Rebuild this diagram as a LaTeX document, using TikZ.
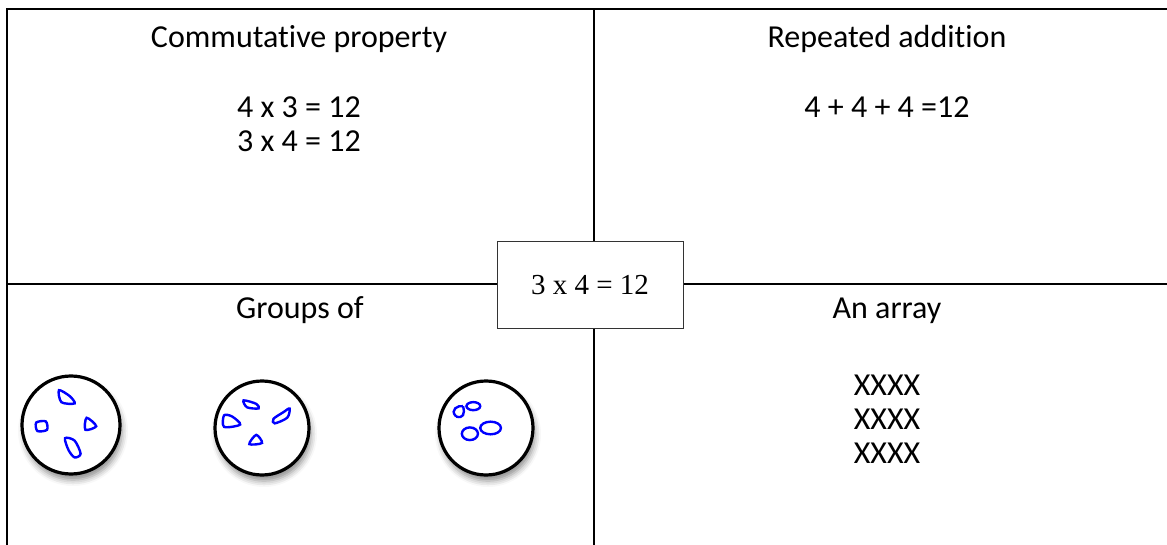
\documentclass[tikz,border=0pt]{standalone}
\usepackage{fontspec}
\setmainfont{Carlito}[Ligatures=NoCommon]
\newfontfamily\keyfont{Liberation Serif}
\usetikzlibrary{shadows.blur}

\begin{document}
\begin{tikzpicture}[x=0.5pt,y=-0.5pt,
        frame/.style={line width=1pt},
        celltext/.style={anchor=base,inner sep=0pt,font=\fontsize{16}{19}\selectfont},
        keybox/.style={draw=black!80,line width=0.5pt,fill=white,minimum width=93pt,minimum height=43pt,inner sep=0pt,font=\keyfont\fontsize{14.5}{17}\selectfont},
        plate/.style={circle,draw=black,line width=1.6pt,fill=white,inner sep=0pt,
            blur shadow={shadow xshift=1pt,shadow yshift=-3pt,shadow blur radius=3pt,shadow opacity=45}},
        blob/.style={draw=blue,line width=1.2pt}]
    \useasboundingbox (0,0) rectangle (1167,545);
    % frame of the four cells
    \coordinate (tl) at (7,9);
    \coordinate (tr) at (1167,9);
    \coordinate (bl) at (7,545);
    \coordinate (mt) at (594,9);
    \coordinate (mb) at (594,545);
    \coordinate (ml) at (7,284);
    \coordinate (mr) at (1167,284);
    \draw[frame] (bl) -- (tl) -- (tr);
    \draw[frame] (mt) -- (mb);
    \draw[frame] (ml) -- (mr);
    \node[keybox] (key) at (590,285) {3 x 4 = 12};
    % top-left cell
    \node[celltext] (comm) at (299,48) {Commutative property};
    \node[celltext] (comm1) at (299,118) {4 x 3 = 12};
    \node[celltext] (comm2) at (299,152) {3 x 4 = 12};
    % top-right cell
    \node[celltext] (rep) at (887,48) {Repeated addition};
    \node[celltext] (rep1) at (887,118) {4 + 4 + 4 =12};
    % bottom-right cell
    \node[celltext] (arr) at (887,318) {An array};
    \foreach \row/\y in {1/395,2/429,3/463}
        \node[celltext] (xrow\row) at (887,\y) {XXXX};
    % bottom-left cell
    \node[celltext] (grp) at (300,318) {Groups of};
    \node[plate,minimum size=49pt] (g1) at (71,425) {};
    \node[plate,minimum size=47pt] (g2) at (262,428) {};
    \node[plate,minimum size=47pt] (g3) at (486,428) {};
    \begin{scope}[shift={(g1.center)},scale=1.2]
        \draw[blob] plot[smooth cycle] coordinates {(-10,-29) (-1,-24) (3,-18) (-8,-19)};  % top
        \draw[blob] plot[smooth cycle] coordinates {(-29,-2) (-21,-3) (-20,4) (-28,5)};  % left
        \draw[blob] plot[smooth cycle] coordinates {(13,-6) (21,1) (12,4)};                % right
        \draw[blob] plot[smooth cycle] coordinates {(-5,11) (3,13) (8,24) (3,27) (-2,21)};  % bottom
    \end{scope}
    \begin{scope}[shift={(g2.center)},scale=1.15]
        \draw[blob] plot[smooth cycle] coordinates {(-33,-11) (-26,-10) (-19,-3) (-33,-1)};  % left
        \draw[blob] plot[smooth cycle] coordinates {(-16,-24) (-5,-21) (-3,-17) (-13,-18)};  % top
        \draw[blob] plot[smooth cycle] coordinates {(10,-8) (19,-14) (24,-17) (22,-9) (11,-4)};  % right
        \draw[blob] plot[smooth cycle] coordinates {(-5,6) (0,13) (-11,14)};               % bottom
    \end{scope}
    \begin{scope}[shift={(g3.center)},scale=1.15]
        \draw[blob] (-26,-10) .. controls (-32,-16) and (-24,-20) .. (-20,-19);          % hook
        \draw[blob] (-26,-10) .. controls (-20,-8) and (-18,-12) .. (-20,-19);
        \draw[blob] (-11,-19) ellipse[x radius=6,y radius=3.5];                          % small
        \draw[blob] (-14,5) ellipse[x radius=7,y radius=5.5];                            % bottom left
        \draw[blob] (4,0) ellipse[x radius=9,y radius=5.5];                              % bottom right
    \end{scope}
\end{tikzpicture}
\end{document}
